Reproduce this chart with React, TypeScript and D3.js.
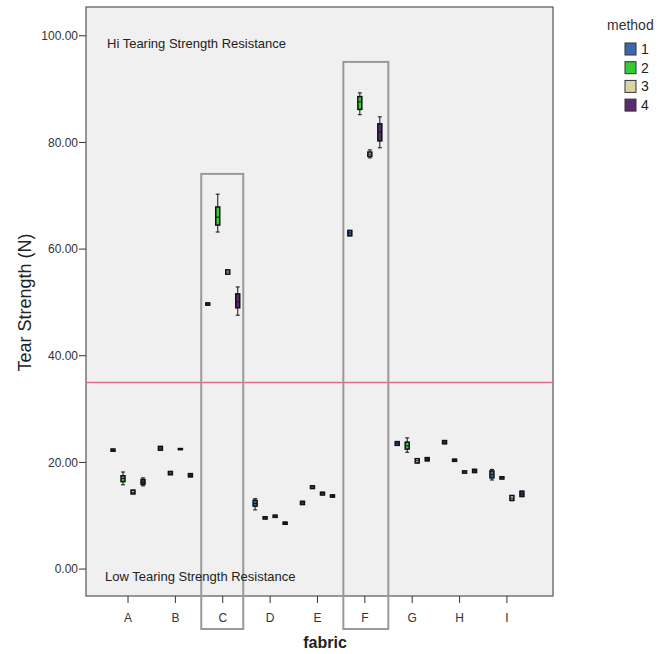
import * as d3 from "d3";

const WIDTH = 665;
const HEIGHT = 654;

const fabrics = ["A", "B", "C", "D", "E", "F", "G", "H", "I"];
const methods = ["1", "2", "3", "4"];
const methodColors = ["#3a6aa8", "#33cc33", "#d9d6a3", "#5a2b6e"];
const yTicks = [0, 20, 40, 60, 80, 100];
const threshold = 35;
const highlighted = ["C", "F"];
const highlightTops = [74.1, 95.1];

// [lower whisker, q1, median, q3, upper whisker] per fabric
const method1 = [
  [22.1, 22.1, 22.3, 22.5, 22.5],
  [22.3, 22.3, 22.7, 23.0, 23.0],
  [49.5, 49.5, 49.7, 49.9, 49.9],
  [11.1, 11.8, 12.3, 12.9, 13.2],
  [12.1, 12.1, 12.4, 12.7, 12.7],
  [62.5, 62.5, 63.0, 63.5, 63.5],
  [23.2, 23.2, 23.6, 23.9, 23.9],
  [23.5, 23.5, 23.8, 24.1, 24.1],
  [16.7, 17.1, 17.7, 18.4, 18.7],
];
const method2 = [
  [15.8, 16.4, 17.0, 17.5, 18.2],
  [17.7, 17.7, 18.0, 18.3, 18.3],
  [63.2, 64.5, 66.0, 67.9, 70.3],
  [9.4, 9.4, 9.6, 9.8, 9.8],
  [15.1, 15.1, 15.4, 15.6, 15.6],
  [85.2, 86.2, 87.6, 88.6, 89.3],
  [21.9, 22.5, 23.1, 23.8, 24.6],
  [20.2, 20.2, 20.4, 20.6, 20.6],
  [16.9, 16.9, 17.1, 17.3, 17.3],
];
const method3 = [
  [14.1, 14.1, 14.4, 14.8, 14.8],
  [22.4, 22.4, 22.5, 22.6, 22.6],
  [55.3, 55.3, 55.7, 56.1, 56.1],
  [9.7, 9.7, 9.9, 10.1, 10.1],
  [13.9, 13.9, 14.2, 14.4, 14.4],
  [77.1, 77.4, 77.8, 78.2, 78.6],
  [19.9, 19.9, 20.3, 20.7, 20.7],
  [18.0, 18.0, 18.2, 18.4, 18.4],
  [12.8, 12.9, 13.3, 13.8, 13.8],
];
const method4 = [
  [15.6, 15.9, 16.3, 16.8, 17.1],
  [17.3, 17.3, 17.6, 17.9, 17.9],
  [47.6, 49.0, 50.1, 51.6, 52.9],
  [8.4, 8.4, 8.6, 8.8, 8.8],
  [13.5, 13.5, 13.7, 13.9, 13.9],
  [79.0, 80.3, 82.0, 83.5, 84.8],
  [20.3, 20.3, 20.6, 20.9, 20.9],
  [18.1, 18.1, 18.4, 18.7, 18.7],
  [13.6, 13.6, 14.1, 14.6, 14.6],
];
const seriesStats = [method1, method2, method3, method4];

const plot = { left: 86, right: 553, top: 7, bottom: 596 };

export default function App() {
  const x = d3
    .scalePoint<string>()
    .domain(fabrics)
    .range([plot.left, plot.right])
    .padding(0.93)
    .align(0.477);
  const offset = d3.scaleBand<string>().domain(methods).range([-20, 20]);
  const y = d3
    .scaleLinear()
    .domain([-5.05, 105.4])
    .range([plot.bottom, plot.top]);
  const boxW = 4;
  const capW = 4;
  const font = "Arial, 'Liberation Sans', sans-serif";

  return (
    <svg
      width={WIDTH}
      height={HEIGHT}
      style={{ position: "absolute", left: 0, top: 0, background: "#fff" }}
      fontFamily={font}
    >
      <rect
        x={plot.left}
        y={plot.top}
        width={plot.right - plot.left}
        height={plot.bottom - plot.top}
        fill="#f0f0f0"
        stroke="#555"
        strokeWidth={1.2}
      />

      {yTicks.map((t) => (
        <g key={t}>
          <line x1={plot.left - 7} x2={plot.left} y1={y(t)} y2={y(t)} stroke="#333" />
          <text
            x={plot.left - 8}
            y={y(t)}
            dy="0.35em"
            textAnchor="end"
            fontSize={12}
            fill="#333"
          >
            {t.toFixed(2)}
          </text>
        </g>
      ))}

      {fabrics.map((f) => (
        <g key={f}>
          <line x1={x(f)} x2={x(f)} y1={plot.bottom} y2={plot.bottom + 7} stroke="#333" />
          <text x={x(f)} y={plot.bottom + 26} textAnchor="middle" fontSize={12} fill="#333">
            {f}
          </text>
        </g>
      ))}

      <line
        x1={plot.left}
        x2={plot.right}
        y1={y(threshold)}
        y2={y(threshold)}
        stroke="#e0708a"
        strokeWidth={1.5}
      />

      {seriesStats.map((stats, mi) =>
        stats.map((s, fi) => {
          const cx = (x(fabrics[fi]) ?? 0) + (offset(methods[mi]) ?? 0) + offset.bandwidth() / 2;
          const [lo, q1, med, q3, hi] = s;
          return (
            <g key={`${mi}-${fi}`}>
              <line x1={cx} x2={cx} y1={y(lo)} y2={y(hi)} stroke="#111" />
              <line x1={cx - capW / 2} x2={cx + capW / 2} y1={y(lo)} y2={y(lo)} stroke="#111" />
              <line x1={cx - capW / 2} x2={cx + capW / 2} y1={y(hi)} y2={y(hi)} stroke="#111" />
              <rect
                x={cx - boxW / 2}
                y={y(q3)}
                width={boxW}
                height={Math.max(y(q1) - y(q3), 1)}
                fill={methodColors[mi]}
                stroke="#111"
                strokeWidth={1.5}
              />
              <line x1={cx - boxW / 2} x2={cx + boxW / 2} y1={y(med)} y2={y(med)} stroke="#111" />
            </g>
          );
        })
      )}

      {highlighted.map((f, i) => {
        const cx = x(f) ?? 0;
        return (
          <rect
            key={f}
            x={cx - 21.5}
            y={y(highlightTops[i])}
            width={42 + i * 3}
            height={plot.bottom + 33 - y(highlightTops[i])}
            fill="none"
            stroke="#999"
            strokeWidth={2}
          />
        );
      })}

      <text x={107} y={48} fontSize={13} fill="#222">
        Hi Tearing Strength Resistance
      </text>
      <text x={105} y={581} fontSize={13} fill="#222">
        Low Tearing Strength Resistance
      </text>

      <text
        transform={`translate(31, ${(y(0) + y(100)) / 2}) rotate(-90)`}
        textAnchor="middle"
        fontSize={18}
        fill="#222"
      >
        Tear Strength (N)
      </text>
      <text x={325} y={648} textAnchor="middle" fontSize={16} fontWeight="bold" fill="#222">
        fabric
      </text>

      <text x={607} y={30} fontSize={14} fill="#333">
        method
      </text>
      {methods.map((m, i) => (
        <g key={m}>
          <rect
            x={625}
            y={43 + i * 18.7}
            width={11}
            height={12}
            fill={methodColors[i]}
            stroke="#333"
          />
          <text x={641} y={54 + i * 18.7} fontSize={14} fill="#222">
            {m}
          </text>
        </g>
      ))}
    </svg>
  );
}
